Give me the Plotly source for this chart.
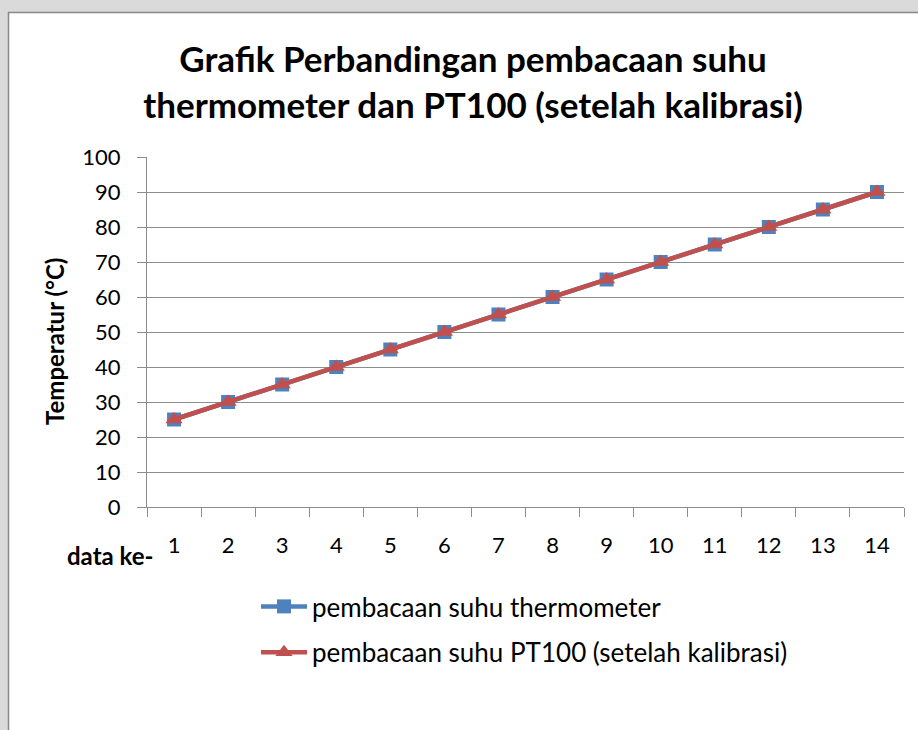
import plotly.graph_objects as go

# Readings per data point
data_ke = [str(i) for i in range(1, 15)]
suhu_thermometer = [25, 30, 35, 40, 45, 50, 55, 60, 65, 70, 75, 80, 85, 90]
suhu_pt100 = [25, 30, 35, 40, 45, 50, 55, 60, 65, 70, 75, 80, 85, 90]
y_ticks = list(range(0, 101, 10))

W, H = 918, 730
L, R, T, B = 147, 14, 157, 223
PW, PH = W - L - R, H - T - B


def px_x(x):
    return (x - L) / PW


def px_y(y):
    return (H - B - y) / PH


FONT = "Lato"
GRID = "#8c8c8c"

fig = go.Figure()
fig.add_trace(go.Scatter(
    x=data_ke, y=suhu_thermometer, mode="lines+markers",
    name="pembacaan suhu thermometer", legendgroup="a",
    line=dict(color="#4f81bd", width=4.5),
    marker=dict(symbol="square", size=14, color="#4f81bd"),
))
fig.add_trace(go.Scatter(
    x=data_ke, y=suhu_pt100, mode="lines+markers",
    name="pembacaan suhu PT100 (setelah kalibrasi)", legendgroup="b",
    line=dict(color="#c0504d", width=4.5),
    marker=dict(symbol="triangle-up", size=15, color="#c0504d"),
))

fig.update_layout(
    width=W, height=H,
    margin=dict(l=L, r=R, t=T, b=B, pad=0),
    paper_bgcolor="white", plot_bgcolor="white",
    font=dict(family=FONT, color="black"),
    title=dict(
        text="<b>Grafik Perbandingan pembacaan suhu<br>thermometer dan PT100 (setelah kalibrasi)</b>",
        x=473 / W, xanchor="center", xref="container",
        y=1 - 72 / H, yanchor="middle", yref="container",
        font=dict(size=35, family=FONT),
    ),
    xaxis=dict(
        type="category", tickson="boundaries", range=[-0.5, 13.5],
        ticks="outside", ticklen=9, tickcolor=GRID, tickwidth=1.3,
        showline=True, linecolor=GRID, linewidth=1.3,
        showgrid=False, tickfont=dict(size=22), ticklabelstandoff=18,
    ),
    yaxis=dict(
        range=[0, 100], tickvals=y_ticks, ticks="outside", ticklen=9,
        tickcolor=GRID, tickwidth=1.3,
        showline=True, linecolor=GRID, linewidth=1.3,
        showgrid=True, gridcolor=GRID, gridwidth=1.3,
        tickfont=dict(size=22), ticklabelstandoff=12, zeroline=False,
    ),
    legend=dict(
        x=px_x(256), xanchor="left", y=px_y(583), yanchor="top",
        font=dict(size=26), tracegroupgap=9, itemwidth=46,
        bgcolor="rgba(0,0,0,0)",
    ),
    shapes=[
        dict(type="rect", xref="paper", yref="paper", layer="below",
             x0=px_x(0), x1=px_x(W), y0=px_y(12), y1=px_y(0),
             fillcolor="#dadada", line=dict(width=0)),
        dict(type="rect", xref="paper", yref="paper", layer="below",
             x0=px_x(0), x1=px_x(8), y0=px_y(H), y1=px_y(0),
             fillcolor="#dadada", line=dict(width=0)),
        dict(type="line", xref="paper", yref="paper", layer="below",
             x0=px_x(8), x1=px_x(W), y0=px_y(12.5), y1=px_y(12.5),
             line=dict(color="#888888", width=1.5)),
        dict(type="line", xref="paper", yref="paper", layer="below",
             x0=px_x(8.5), x1=px_x(8.5), y0=px_y(12), y1=px_y(H),
             line=dict(color="#888888", width=1.5)),
    ],
    annotations=[
        dict(text="<b>Temperatur (°C)</b>", xref="paper", yref="paper",
             x=px_x(54), y=px_y(342), xanchor="center", yanchor="middle",
             textangle=-90, showarrow=False, font=dict(size=24)),
        dict(text="<b>data ke-</b>", xref="paper", yref="paper",
             x=px_x(110), y=px_y(555), xanchor="center", yanchor="middle",
             showarrow=False, font=dict(size=24)),
    ],
)

fig.write_html("out.html")
